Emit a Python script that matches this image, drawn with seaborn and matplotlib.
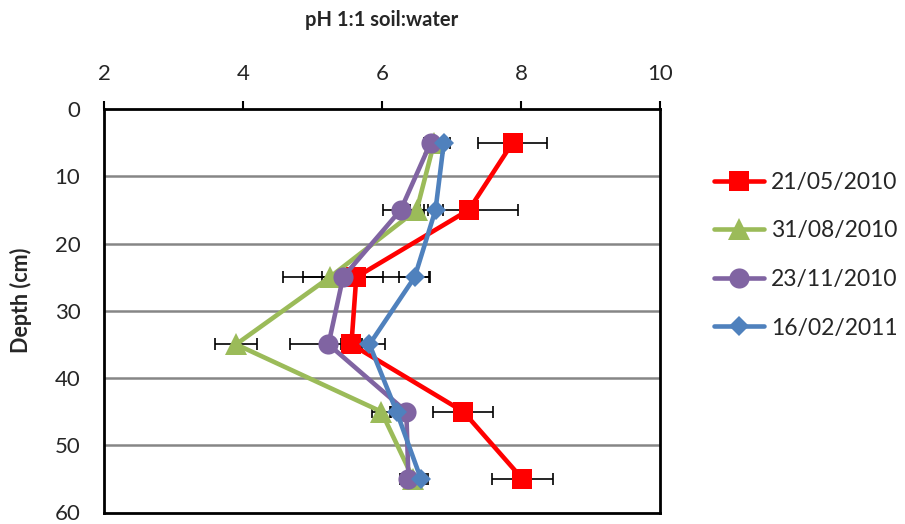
import matplotlib
matplotlib.use("Agg")
import matplotlib.pyplot as plt
import seaborn as sns

# Soil pH (1:1 soil:water) profiles by sampling date
depth = [5, 15, 25, 35, 45, 55]
dates = ["21/05/2010", "31/08/2010", "23/11/2010", "16/02/2011"]

ph_may10 = [7.88, 7.25, 5.63, 5.56, 7.17, 8.02]
ph_aug10 = [6.75, 6.50, 5.25, 3.90, 5.99, 6.45]
ph_nov10 = [6.70, 6.27, 5.44, 5.23, 6.35, 6.38]
ph_feb11 = [6.89, 6.77, 6.47, 5.82, 6.21, 6.56]

err_may10 = [0.50, 0.71, 1.05, 0.15, 0.43, 0.44]
err_aug10 = [0.10, 0.10, 0.12, 0.30, 0.14, 0.19]
err_nov10 = [0.10, 0.26, 0.57, 0.55, 0.10, 0.10]
err_feb11 = [0.09, 0.11, 0.22, 0.23, 0.10, 0.10]

x_ticks = [2, 4, 6, 8, 10]
y_ticks = [0, 10, 20, 30, 40, 50, 60]

sns.set_theme(style="white")
plt.rcParams["font.family"] = ["Lato", "DejaVu Sans"]

series = [
    (ph_may10, err_may10, dates[0], "#FF0000", "s", 14.5),
    (ph_aug10, err_aug10, dates[1], "#9BBB59", "^", 15.5),
    (ph_nov10, err_nov10, dates[2], "#8064A2", "o", 14.5),
    (ph_feb11, err_feb11, dates[3], "#4F81BD", "D", 9.8),
]

fig = plt.figure(figsize=(9.05, 5.24), dpi=100)
ax = fig.add_axes([104 / 905, 1 - 512.5 / 524, 556 / 905, 403.5 / 524])

for i, (vals, errs, lab, col, mk, ms) in enumerate(series):
    ax.errorbar(vals, depth, xerr=errs, fmt="none", ecolor="black",
                elinewidth=1.2, capsize=4.5, capthick=1.2, zorder=2)
    sns.lineplot(x=vals, y=depth, orient="y", sort=False, estimator=None,
                 color=col, marker=mk, markersize=ms, markeredgewidth=0,
                 linewidth=3.3, label=lab, ax=ax, zorder=3 + i)

ax.set_xlim(2, 10)
ax.set_ylim(60, 0)
ax.set_xticks(x_ticks)
ax.set_yticks(y_ticks)
ax.xaxis.tick_top()
ax.tick_params(axis="x", which="major", direction="out", length=6, width=1.5,
               color="black", labelsize=16, pad=12)
ax.tick_params(axis="y", which="major", direction="out", length=5, width=1.5,
               color="black", labelsize=16, pad=12)
ax.set_xlabel("")
ax.set_ylabel("")

for y in y_ticks[1:-1]:
    ax.axhline(y, color="#868686", linewidth=1.8, zorder=1)
for sp in ax.spines.values():
    sp.set_visible(True)
    sp.set_color("black")
    sp.set_linewidth(2.0)

fig.text(382 / 905, 1 - 20 / 524, "pH 1:1 soil:water", ha="center",
         va="center", fontsize=14.5, fontweight="bold")
fig.text(21 / 905, 1 - 300 / 524, "Depth (cm)", ha="center", va="center",
         rotation=90, fontsize=15.5, fontweight="bold")

ax.legend(loc="upper left", bbox_to_anchor=(714 / 905, 1 - 172 / 524),
          bbox_transform=fig.transFigure, frameon=False, fontsize=16.5,
          handlelength=2.2, handletextpad=0.3, labelspacing=1.2,
          borderpad=0, borderaxespad=0)

fig.savefig("out.png", dpi=100)
